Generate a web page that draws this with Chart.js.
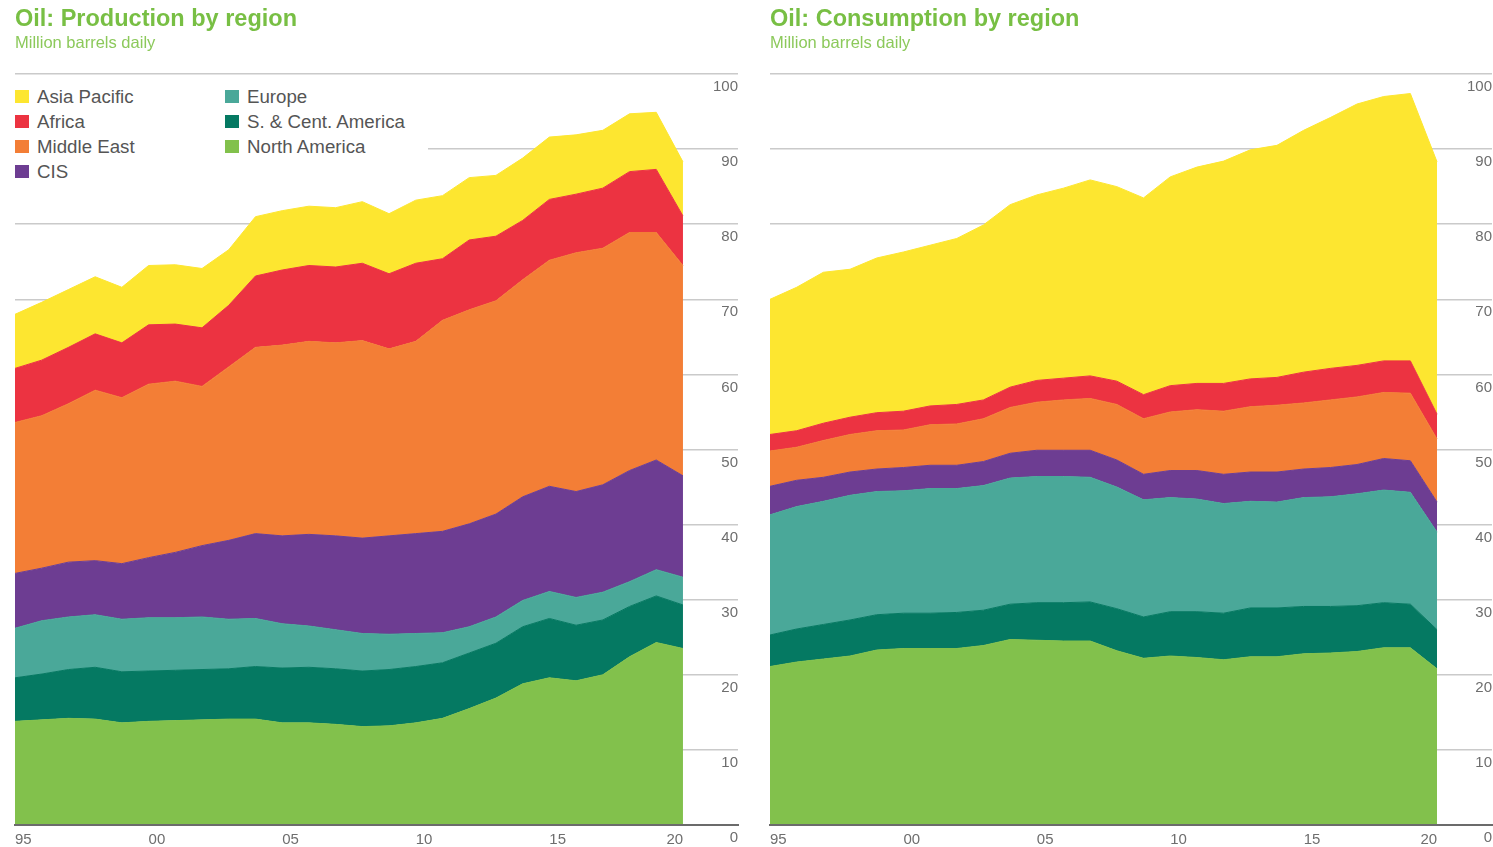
<!DOCTYPE html>
<html>
<head>
<meta charset="utf-8">
<script src="https://cdn.jsdelivr.net/npm/chart.js@4.4.1/dist/chart.umd.min.js"></script>
<style>
html,body{margin:0;padding:0;background:#fff;width:1493px;height:847px;overflow:hidden;}
.title{position:absolute;font-family:"Liberation Sans",Arial,sans-serif;font-weight:bold;font-size:23.5px;color:#78bf44;white-space:nowrap;line-height:normal;}
.sub{position:absolute;font-family:"Liberation Sans",Arial,sans-serif;font-size:16.5px;color:#8cc95b;white-space:nowrap;line-height:normal;}
canvas{position:absolute;top:0;}
.legend{position:absolute;left:0;top:82px;width:428px;height:104px;background:#fff;font-family:"Liberation Sans",Arial,sans-serif;font-size:18.7px;color:#555;}
.li{position:absolute;white-space:nowrap;line-height:20px;}
.sw{position:absolute;width:14px;height:13px;}
</style>
</head>
<body>
<canvas id="prod" width="750" height="855" style="left:0px;width:750px;height:855px;"></canvas>
<canvas id="cons" width="738" height="855" style="left:755px;width:738px;height:855px;"></canvas>
<div class="title" style="left:15px;top:5px;">Oil: Production by region</div>
<div class="sub" style="left:15px;top:33px;">Million barrels daily</div>
<div class="title" style="left:770px;top:5px;">Oil: Consumption by region</div>
<div class="sub" style="left:770px;top:33px;">Million barrels daily</div>
<div class="legend" id="legend"></div>
<script>
// ---- Data ----
const years = [1995,1996,1997,1998,1999,2000,2001,2002,2003,2004,2005,2006,2007,2008,2009,2010,2011,2012,2013,2014,2015,2016,2017,2018,2019,2020];
const xTickYears = [1995,2000,2005,2010,2015,2020];
const xTickLabels = ['95','00','05','10','15','20'];
const yTickValues = [0,10,20,30,40,50,60,70,80,90,100];

const seriesNames = ['North America','S. & Cent. America','Europe','CIS','Middle East','Africa','Asia Pacific'];
const seriesColors = ['#82c14c','#057962','#4aa899','#6d3d92','#f37e36','#ec3341','#fde630'];

// Production (million barrels daily)
const prodNorthAmerica = [13.8,14.0,14.2,14.1,13.6,13.8,13.9,14.0,14.1,14.1,13.6,13.6,13.4,13.1,13.2,13.6,14.2,15.5,16.9,18.8,19.6,19.2,20.0,22.4,24.3,23.5];
const prodSCAmerica    = [5.8,6.1,6.5,6.9,6.8,6.7,6.7,6.7,6.7,7.0,7.3,7.4,7.4,7.4,7.5,7.5,7.4,7.4,7.3,7.6,7.9,7.4,7.3,6.7,6.2,5.8];
const prodEurope       = [6.6,7.1,7.0,7.0,7.0,7.1,7.0,7.0,6.6,6.4,5.9,5.5,5.2,5.0,4.7,4.4,4.0,3.5,3.5,3.5,3.6,3.7,3.7,3.3,3.5,3.7];
const prodCIS          = [7.3,7.0,7.3,7.2,7.4,8.0,8.7,9.5,10.5,11.3,11.7,12.2,12.5,12.7,13.1,13.3,13.5,13.7,13.7,13.8,14.0,14.1,14.3,14.8,14.6,13.5];
const prodMiddleEast   = [20.1,20.3,21.1,22.7,22.1,23.1,22.8,21.2,23.1,24.8,25.4,25.7,25.7,26.3,24.9,25.6,28.1,28.5,28.4,28.9,30.1,31.8,31.5,31.7,30.3,28.0];
const prodAfrica       = [7.2,7.4,7.5,7.5,7.3,7.9,7.6,7.8,8.2,9.5,10.0,10.1,10.1,10.3,10.0,10.4,8.2,9.3,8.6,7.9,8.1,7.8,8.0,8.1,8.4,6.6];
const prodAsiaPacific  = [7.2,7.7,7.7,7.6,7.4,7.9,7.9,7.9,7.4,7.9,7.9,7.9,7.9,8.2,8.0,8.4,8.4,8.3,8.1,8.3,8.3,7.9,7.7,7.7,7.6,7.2];

// Consumption (million barrels daily)
const consNorthAmerica = [21.1,21.7,22.1,22.5,23.3,23.5,23.5,23.5,23.9,24.7,24.6,24.5,24.5,23.2,22.2,22.5,22.3,22.0,22.4,22.4,22.8,22.9,23.1,23.6,23.6,20.8];
const consSCAmerica    = [4.2,4.4,4.6,4.8,4.7,4.7,4.7,4.8,4.7,4.7,5.0,5.1,5.2,5.6,5.5,5.9,6.1,6.2,6.5,6.5,6.3,6.2,6.1,6.0,5.8,5.2];
const consEurope       = [16.0,16.3,16.4,16.6,16.4,16.3,16.6,16.5,16.6,16.8,16.8,16.8,16.6,16.2,15.6,15.2,15.0,14.6,14.2,14.1,14.5,14.6,14.9,15.0,14.9,13.0];
const consCIS          = [3.8,3.5,3.2,3.1,3.0,3.1,3.1,3.1,3.2,3.3,3.5,3.5,3.6,3.6,3.4,3.6,3.8,3.9,3.9,4.0,3.8,3.9,3.9,4.2,4.2,4.0];
const consMiddleEast   = [4.7,4.4,4.9,5.0,5.1,5.0,5.4,5.5,5.7,6.1,6.4,6.7,6.9,7.4,7.4,7.8,8.1,8.4,8.7,8.9,8.8,9.0,9.0,8.8,9.0,8.4];
const consAfrica       = [2.2,2.2,2.3,2.3,2.4,2.5,2.5,2.6,2.5,2.7,2.9,2.9,3.0,3.1,3.2,3.5,3.5,3.7,3.7,3.7,4.1,4.2,4.2,4.2,4.3,3.3];
const consAsiaPacific  = [18.0,19.1,20.1,19.7,20.6,21.2,21.4,22.1,23.3,24.3,24.7,25.3,26.1,25.9,26.2,27.8,28.8,29.6,30.5,30.9,32.2,33.4,34.8,35.2,35.6,33.6];

const prodSeries = [prodNorthAmerica, prodSCAmerica, prodEurope, prodCIS, prodMiddleEast, prodAfrica, prodAsiaPacific];
const consSeries = [consNorthAmerica, consSCAmerica, consEurope, consCIS, consMiddleEast, consAfrica, consAsiaPacific];

// legend layout order (column 1, then column 2)
const legendCol1 = ['Asia Pacific','Africa','Middle East','CIS'];
const legendCol2 = ['Europe','S. & Cent. America','North America'];

// ---- Chart ----
const FONT = '"Liberation Sans", Arial, sans-serif';
const X_MAX = 2022.06;   // axis extends past last year (grid continues under the labels)
const LAST_LABEL_SHIFT = 0.62;

function buildDatasets(series){
  return series.map((vals, k) => ({
    label: seriesNames[k],
    data: years.map((yr, i) => ({x: yr, y: vals[i]})),
    backgroundColor: seriesColors[k],
    borderColor: seriesColors[k],
    borderWidth: 1,
    pointRadius: 0,
    tension: 0,
    fill: k === 0 ? 'origin' : '-1'
  }));
}

function makeChart(id, series, padLeft, padRight){
  return new Chart(document.getElementById(id), {
    type: 'line',
    data: { datasets: buildDatasets(series) },
    options: {
      responsive: false,
      animation: false,
      devicePixelRatio: 1,
      layout: { padding: { left: padLeft, right: padRight, top: 74, bottom: 0 } },
      plugins: { legend: { display: false }, tooltip: { enabled: false }, title: {display:false} },
      scales: {
        x: {
          type: 'linear', min: 1995, max: X_MAX,
          grid: { display: false, drawTicks: false },
          border: { display: true, color: '#6b6b6b', width: 2, z: 1 },
          afterBuildTicks: (s) => {
            s.ticks = xTickYears.map((v, i) => ({ value: i === xTickYears.length - 1 ? v - LAST_LABEL_SHIFT : v }));
          },
          ticks: {
            autoSkip: false, maxRotation: 0, minRotation: 0, align: 'start', padding: 6,
            color: '#6e6e6e', font: { family: FONT, size: 15 },
            callback: (v, i) => xTickLabels[i]
          }
        },
        y: {
          position: 'right', stacked: true, min: 0, max: 100,
          afterBuildTicks: (s) => { s.ticks = yTickValues.map(v => ({ value: v })); },
          grid: { color: '#cacaca', lineWidth: 1.5, drawTicks: false },
          border: { display: false },
          ticks: {
            mirror: true, padding: 0, labelOffset: 13, autoSkip: false,
            color: '#6e6e6e', font: { family: FONT, size: 15 },
            callback: (v) => String(v)
          }
        }
      }
    }
  });
}

makeChart('prod', prodSeries, 15, 12);
makeChart('cons', consSeries, 15, 1);

// HTML legend built from series names/colours
const legend = document.getElementById('legend');
function addItem(name, col, row){
  const color = seriesColors[seriesNames.indexOf(name)];
  const sx = col === 0 ? 15 : 225;
  const tx = col === 0 ? 37 : 247;
  const cy = 97 - 82 + row * 25;
  const sw = document.createElement('div');
  sw.className = 'sw'; sw.style.left = sx + 'px'; sw.style.top = (cy - 7) + 'px'; sw.style.background = color;
  const t = document.createElement('div');
  t.className = 'li'; t.style.left = tx + 'px'; t.style.top = (cy - 10) + 'px'; t.textContent = name;
  legend.appendChild(sw); legend.appendChild(t);
}
legendCol1.forEach((n, r) => addItem(n, 0, r));
legendCol2.forEach((n, r) => addItem(n, 1, r));
</script>
</body>
</html>
